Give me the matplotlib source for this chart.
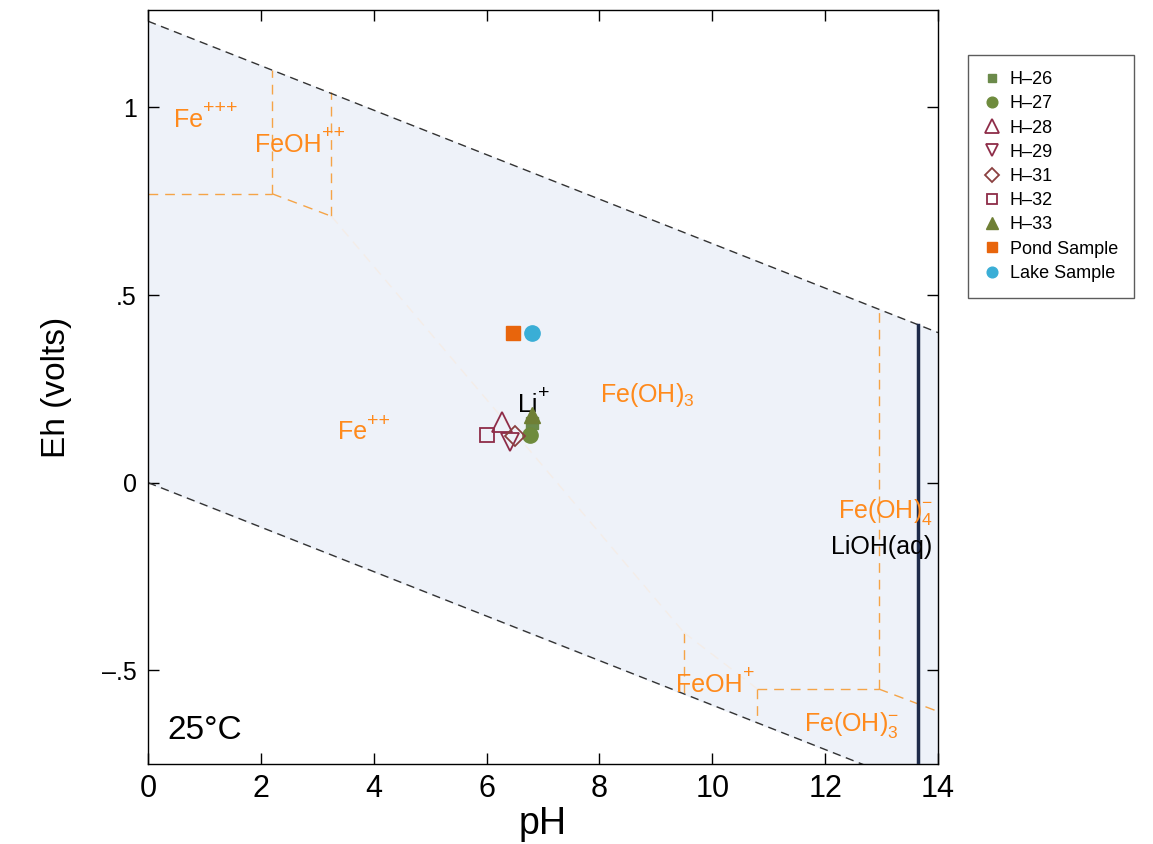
import numpy as np
import matplotlib
matplotlib.use("Agg")
import matplotlib.pyplot as plt

plt.rcParams['font.family'] = ['Liberation Sans', 'DejaVu Sans']
plt.rcParams['mathtext.fontset'] = 'custom'
plt.rcParams['mathtext.rm'] = 'Liberation Sans'
plt.rcParams['mathtext.it'] = 'Liberation Sans'

# === Datos ===
ph_lims = [0, 14]
eh_lims = [-0.75, 1.26]

# lineas de estabilidad del agua (extremos)
agua_ph = [0, 14]
agua_sup_eh = [1.23, 0.40]
agua_inf_eh = [0.0, -0.83]

# limites de campos de Fe (segmentos ph, eh)
fe_limites = [
    ([0.0, 2.2], [0.77, 0.77]),
    ([2.2, 2.2], [0.77, 1.10]),
    ([2.2, 3.25], [0.77, 0.71]),
    ([3.25, 3.25], [0.71, 1.04]),
    ([9.5, 9.5], [-0.40, -0.56]),
    ([10.8, 10.8], [-0.55, -0.64]),
    ([10.8, 12.95], [-0.55, -0.55]),
    ([12.95, 12.95], [-0.55, 0.46]),
    ([12.95, 14.0], [-0.55, -0.61]),
]
# limites casi invisibles
fe_limites_tenues = [
    ([3.25, 9.5], [0.71, -0.40]),
    ([9.5, 10.8], [-0.40, -0.55]),
]

# limite Li+ / LiOH(aq)
li_ph = [13.65, 13.65]
li_eh = [-0.75, 0.42]

# muestras
muestras = ["H\u201326", "H\u201327", "H\u201328", "H\u201329", "H\u201331",
            "H\u201332", "H\u201333", "Pond Sample", "Lake Sample"]
muestras_ph = [6.80, 6.77, 6.28, 6.42, 6.50, 6.00, 6.80, 6.47, 6.80]
muestras_eh = [0.160, 0.128, 0.162, 0.108, 0.125, 0.128, 0.180, 0.400, 0.400]

# etiquetas de especies (texto, carga, ph, eh, color)
especies = [
    ("Fe", "+++", 0.46, 0.948, 'o'),
    ("FeOH", "++", 1.90, 0.881, 'o'),
    ("Fe", "++", 3.37, 0.115, 'o'),
    ("Fe(OH)$_3$", "", 8.01, 0.215, 'o'),
    ("Fe(OH)$_4^{-}$", "", 12.23, -0.095, 'o'),
    ("FeOH", "+", 9.36, -0.557, 'o'),
    ("Fe(OH)$_3^{-}$", "", 11.63, -0.663, 'o'),
    ("Li", "+", 6.56, 0.189, 'k'),
    ("LiOH(aq)", "", 12.10, -0.19, 'k'),
]

yticks = [-0.5, 0, 0.5, 1]
ytick_labels = ["\u2013.5", "0", ".5", "1"]
xticks = [0, 2, 4, 6, 8, 10, 12, 14]

NARANJA = '#ff8a1c'
NARANJA_LINEA = '#f5a447'
VERDE = '#6e8b3d'
GRANATE = '#8e2c48'

estilos = [
    dict(marker='s', color='#6b8a4a', mfc='#6b8a4a', ms=9),
    dict(marker='o', color=VERDE, mfc=VERDE, ms=11),
    dict(marker='^', color=GRANATE, mfc='none', ms=14, mew=1.3),
    dict(marker='v', color=GRANATE, mfc='none', ms=13, mew=1.3),
    dict(marker='D', color='#8b4040', mfc='none', ms=10, mew=1.3),
    dict(marker='s', color=GRANATE, mfc='none', ms=10, mew=1.3),
    dict(marker='^', color='#6f7f35', mfc='#6f7f35', ms=12),
    dict(marker='s', color='#e8650c', mfc='#e8650c', ms=10),
    dict(marker='o', color='#3aaed6', mfc='#3aaed6', ms=11),
]


# === Grafico ===
fig = plt.figure(figsize=(11.53, 8.44), dpi=100)
ax = fig.add_axes([0.1284, 0.0948, 0.6851, 0.8934])

ax.fill_between(agua_ph, agua_inf_eh, agua_sup_eh, color='#eef2f9', zorder=0)

ax.plot(agua_ph, agua_sup_eh, color='#333333', lw=1.0, dashes=(6, 4), zorder=2)
ax.plot(agua_ph, agua_inf_eh, color='#333333', lw=1.0, dashes=(6, 4), zorder=2)

for seg_ph, seg_eh in fe_limites:
    ax.plot(seg_ph, seg_eh, color=NARANJA_LINEA, lw=1.0, dashes=(7, 5), zorder=1)
for seg_ph, seg_eh in fe_limites_tenues:
    ax.plot(seg_ph, seg_eh, color='#f4ede8', lw=1.0, dashes=(7, 5), zorder=1)

ax.plot(li_ph, li_eh, color='#1e2b4a', lw=2.5, zorder=3)

for texto, carga, x, y, c in especies:
    color = NARANJA if c == 'o' else 'black'
    t = ax.text(x, y, texto, color=color, fontsize=18, ha='left', va='baseline', zorder=4)
    if carga:
        # carga como superindice pegado al texto
        ax.annotate(carga, xy=(1.0, 0.62), xycoords=t, color=color, fontsize=14,
                    ha='left', va='bottom', zorder=4)

ax.text(0.35, -0.684, "25\u00b0C", fontsize=24, ha='left', va='baseline')

for nombre, x, y, st in zip(muestras, muestras_ph, muestras_eh, estilos):
    ax.plot([x], [y], linestyle='none', label=nombre, zorder=5, **st)

ax.set_xlim(ph_lims)
ax.set_ylim(eh_lims)
ax.set_xticks(xticks)
ax.set_yticks(yticks)
ax.set_yticklabels(ytick_labels)
ax.tick_params(direction='in', top=True, right=True, length=8, width=1)
ax.tick_params(axis='x', labelsize=22, pad=7)
ax.tick_params(axis='y', labelsize=18, pad=8)
for s in ax.spines.values():
    s.set_linewidth(1.0)

ax.set_xlabel("pH", fontsize=27, labelpad=2)
ax.set_ylabel("Eh (volts)", fontsize=24, labelpad=22)

# leyenda con marcadores pequenos
handles, labels = ax.get_legend_handles_labels()
leg = fig.legend(handles, labels, loc='upper left', bbox_to_anchor=(0.8396, 0.935),
                 frameon=True, fancybox=False, edgecolor='#333333', fontsize=13,
                 markerscale=0.7, handlelength=0.9, handletextpad=0.5,
                 borderpad=0.9, labelspacing=0.4, borderaxespad=0)
leg.get_frame().set_linewidth(1.0)

fig.savefig("out.png", dpi=100)
